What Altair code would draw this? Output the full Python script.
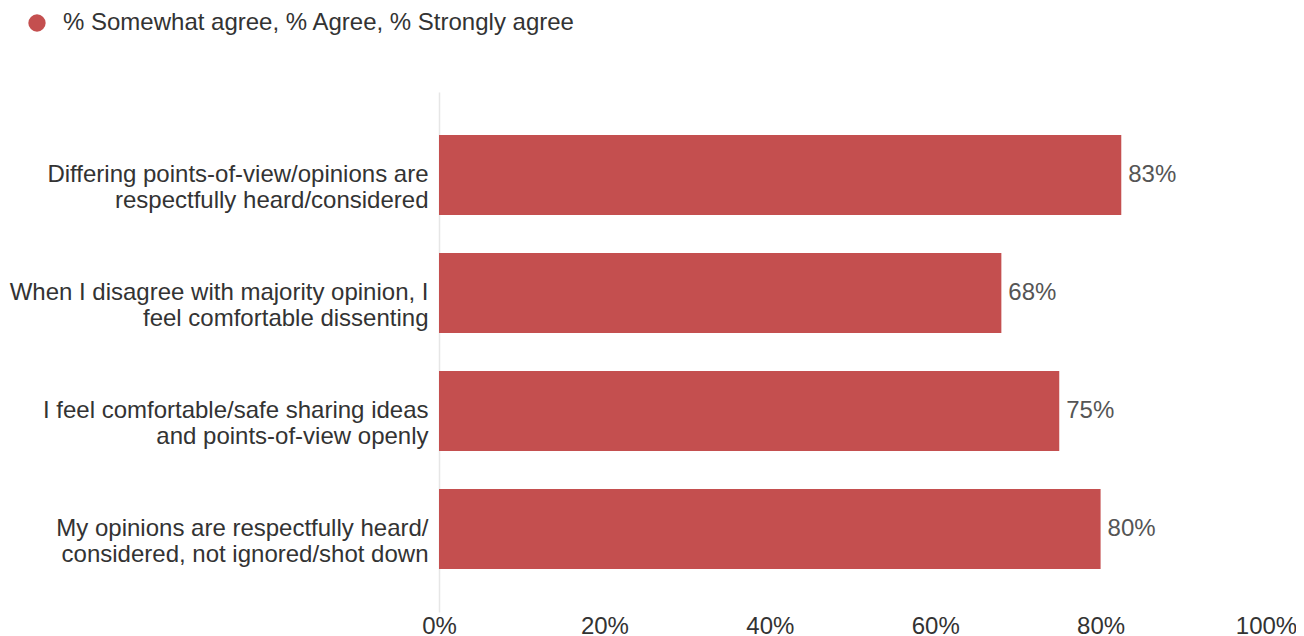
import altair as alt
import pandas as pd

statements = [
    "Differing points-of-view/opinions are|respectfully heard/considered",
    "When I disagree with majority opinion, I|feel comfortable dissenting",
    "I feel comfortable/safe sharing ideas|and points-of-view openly",
    "My opinions are respectfully heard/|considered, not ignored/shot down",
]
values = [82.5, 68, 75, 80]
value_labels = ["83%", "68%", "75%", "80%"]
series = "% Somewhat agree, % Agree, % Strongly agree"

df = pd.DataFrame({
    "statement": statements,
    "value": values,
    "label": value_labels,
    "series": [series] * len(statements),
})

FONT = "Liberation Sans"
FS = 24

y_enc = alt.Y(
    "statement:N",
    sort=statements,
    title=None,
    scale=alt.Scale(paddingInner=0.322, paddingOuter=0.364),
    axis=alt.Axis(
        labelExpr="split(datum.label, '|')",
        labelFontSize=FS,
        labelFont=FONT,
        labelColor="#333333",
        labelLineHeight=26,
        labelPadding=11,
        ticks=False,
        domain=True,
        domainColor="#e6e6e6",
        domainWidth=1.5,
        labelLimit=500,
        grid=False,
    ),
)

bars = alt.Chart(df).mark_bar(size=80).encode(
    x=alt.X(
        "value:Q",
        title=None,
        scale=alt.Scale(domain=[0, 100], nice=False),
        axis=alt.Axis(
            values=[0, 20, 40, 60, 80, 100],
            labelExpr="datum.value + '%'",
            labelFontSize=FS,
            labelFont=FONT,
            labelColor="#333333",
            labelPadding=2,
            grid=False,
            ticks=False,
            domain=False,
            labelFlush=False,
        ),
    ),
    y=y_enc,
    color=alt.Color(
        "series:N",
        scale=alt.Scale(range=["#c44f4f"]),
        legend=alt.Legend(
            title=None,
            orient="none",
            legendX=-414,
            legendY=-81,
            symbolType="circle",
            symbolSize=300,
            symbolStrokeWidth=0,
            labelFontSize=FS,
            labelFont=FONT,
            labelColor="#333333",
            labelLimit=800,
            labelOffset=14,
        ),
    ),
)

text = alt.Chart(df).mark_text(
    align="left", baseline="middle", dx=7, fontSize=FS, font=FONT, color="#555555"
).encode(
    x="value:Q",
    y=alt.Y("statement:N", sort=statements),
    text="label:N",
)

chart = (
    alt.layer(bars, text)
    .properties(
        width=827,
        height=520,
        autosize=alt.AutoSizeParams(type="none"),
        padding={"left": 431, "top": 84, "right": 30, "bottom": 40},
        view=alt.ViewBackground(stroke="transparent", strokeWidth=0),
    )
    .configure_view(strokeWidth=0, stroke="transparent")
    .configure(background="white")
)

chart.save("out.html", embed_options={"renderer": "svg", "actions": False})
